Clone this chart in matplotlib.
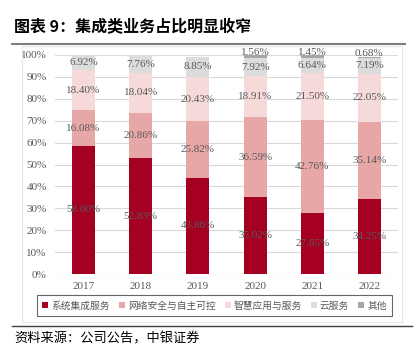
import numpy as np
import matplotlib.pyplot as plt
from matplotlib.patches import Rectangle
from matplotlib.lines import Line2D

plt.rcParams['font.family'] = ['Liberation Serif', 'Noto Sans CJK SC', 'DejaVu Sans']

years = ['2017', '2018', '2019', '2020', '2021', '2022']
series = ['系统集成服务', '网络安全与自主可控', '智慧应用与服务', '云服务', '其他']
sys_int = [58.60, 52.83, 43.86, 35.02, 27.65, 34.25]
net_sec = [16.08, 20.86, 25.82, 36.59, 42.76, 35.14]
smart = [18.40, 18.04, 20.43, 18.91, 21.50, 22.05]
cloud = [6.92, 7.76, 8.85, 7.92, 6.64, 7.19]
other = [0, 0, 0, 1.56, 1.45, 0.68]
colors = ['#A50021', '#E8A7A7', '#F6D9D9', '#DCDCDC', '#A6A6A6']

fig = plt.figure(figsize=(4.19, 3.55), dpi=100)
W, H = 419, 355

# frame and rules
fig.add_artist(Rectangle((22 / W, 1 - 322 / H), 380 / W, 276 / H, transform=fig.transFigure,
                         fill=False, ec='#E6E6E6', lw=0.8))
fig.add_artist(Line2D([12 / W, 405 / W], [1 - 44 / H] * 2, transform=fig.transFigure,
                      color='#7F7F7F', lw=1.5))
fig.add_artist(Line2D([12 / W, 412 / W], [1 - 326 / H] * 2, transform=fig.transFigure,
                      color='#404040', lw=1.0))
fig.text(14 / W, 1 - 27 / H, '图表 9：集成类业务占比明显收窄', fontsize=11.5, fontweight='bold',
         family=['Noto Sans CJK SC'], va='center', ha='left')
fig.text(14 / W, 1 - 339 / H, '资料来源：公司公告，中银证券', fontsize=9.5, style='italic',
         family=['Noto Sans CJK SC'], va='center', ha='left')

ax = fig.add_axes([55 / W, 1 - 274 / H, 343 / W, 219 / H])
x = np.arange(len(years))
data = [sys_int, net_sec, smart, cloud, other]
bottom = np.zeros(len(years))
for name, vals, c in zip(series, data, colors):
    v = np.array(vals) / 100
    ax.bar(x, v, 0.4, bottom=bottom, color=c, label=name, zorder=2)
    for i in range(len(years)):
        if vals[i] == 0:
            continue
        if name == '其他':
            ypos = bottom[i] + v[i] + 0.012
        else:
            ypos = bottom[i] + v[i] / 2
        ax.text(x[i], ypos, f'{vals[i]:.2f}%', ha='center', va='center', fontsize=8,
                color='#595959', zorder=3, clip_on=False)
    bottom += v

ax.set_xlim(-0.5, 5.5)
ax.set_ylim(0, 1.0)
ax.set_yticks(np.arange(0, 1.01, 0.1))
ax.set_yticklabels([f'{int(t)}%' for t in np.arange(0, 101, 10)])
ax.set_xticks(x)
ax.set_xticklabels(years)
ax.tick_params(length=0, labelsize=8, labelcolor='#595959', pad=6)
ax.grid(axis='y', color='#D9D9D9', lw=0.8, zorder=0)
for s in ax.spines.values():
    s.set_visible(False)
ax.axhline(0, color='#D9D9D9', lw=0.8, zorder=1)

leg = fig.legend(loc='lower left', mode='expand',
                 bbox_to_anchor=(37 / W, 1 - 316 / H, 355 / W, 24 / H), ncol=5,
                 frameon=True, fancybox=False, edgecolor='#404040', handlelength=0.6,
                 handleheight=0.6, handletextpad=0.3, columnspacing=1.2, borderpad=0.55,
                 borderaxespad=0, prop={'family': ['Noto Sans CJK SC'], 'size': 7})
leg.get_frame().set_linewidth(0.8)
for t in leg.get_texts():
    t.set_color('#595959')

fig.savefig('out.png', dpi=100)
